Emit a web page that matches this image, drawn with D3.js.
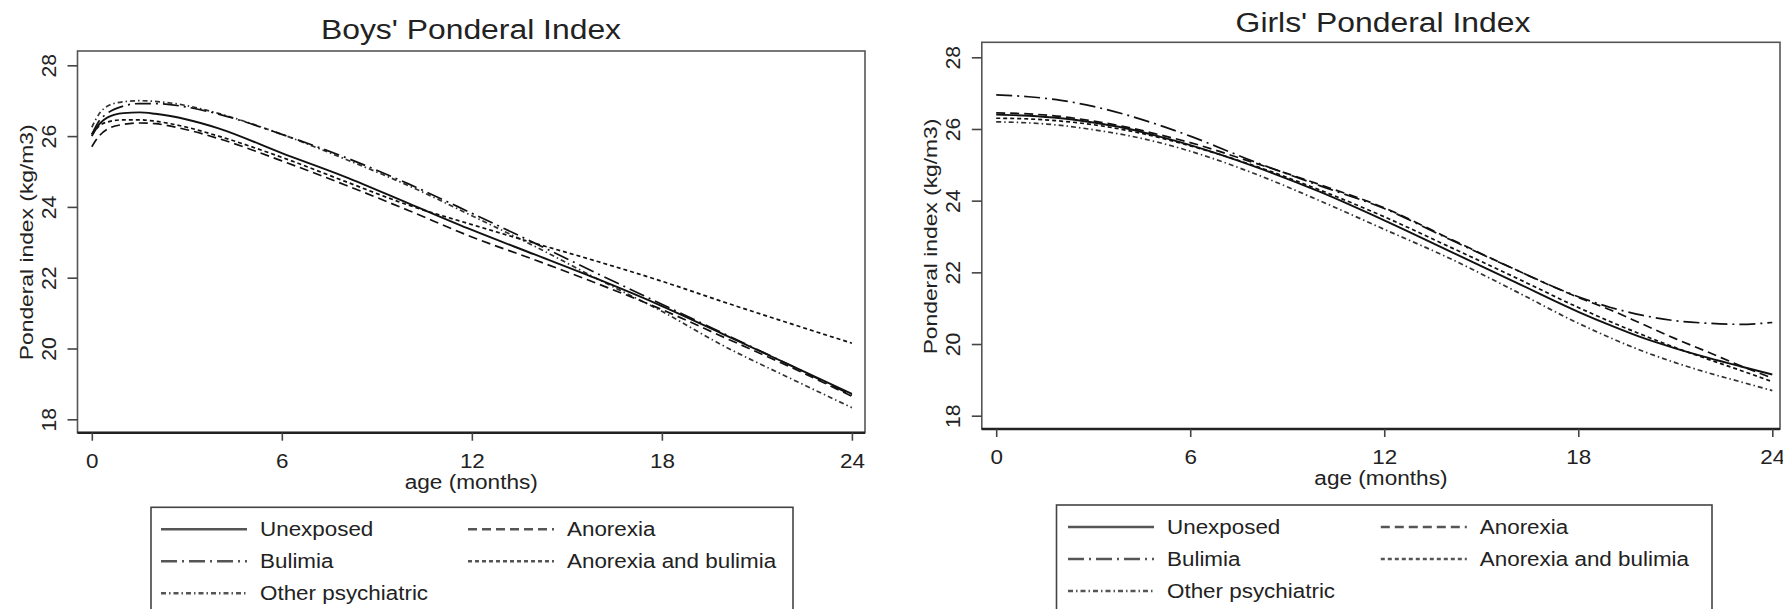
<!DOCTYPE html>
<html>
<head>
<meta charset="utf-8">
<script src="https://cdn.jsdelivr.net/npm/d3@7"></script>
<style>
  html, body { margin: 0; padding: 0; background: #fff; }
  svg { display: block; }
  text { font-family: "Liberation Sans", Arial, sans-serif; fill: #222; }
</style>
</head>
<body>
<svg id="chart" width="1783" height="609"></svg>
<script>
// ---------- data ----------
const seriesNames = ["Unexposed", "Anorexia", "Bulimia", "Anorexia and bulimia", "Other psychiatric"];
const xTicks = [0, 6, 12, 18, 24];
const yTicks = [18, 20, 22, 24, 26, 28];

const boysMonths = [0, 0.25, 0.5, 1, 1.5, 2, 3, 4, 6, 8, 10, 12, 14, 16, 18, 20, 22, 24];
const boysUnexposed = [26.0, 26.35, 26.53, 26.65, 26.67, 26.63, 26.47, 26.22, 25.52, 24.85, 24.1, 23.35, 22.65, 21.95, 21.2, 20.38, 19.55, 18.72];
const boysAnorexia = [25.7, 26.02, 26.2, 26.33, 26.37, 26.35, 26.18, 25.93, 25.3, 24.62, 23.9, 23.15, 22.5, 21.82, 21.1, 20.3, 19.5, 18.65];
const boysBulimia = [26.05, 26.45, 26.65, 26.85, 26.92, 26.92, 26.82, 26.62, 26.05, 25.4, 24.65, 23.82, 22.97, 22.1, 21.25, 20.4, 19.55, 18.68];
const boysAnorexiaBulimia = [26.05, 26.3, 26.4, 26.46, 26.46, 26.42, 26.25, 26.0, 25.4, 24.72, 24.05, 23.5, 22.97, 22.45, 21.9, 21.3, 20.72, 20.15];
const boysOther = [26.25, 26.65, 26.85, 26.97, 27.0, 26.98, 26.86, 26.64, 26.05, 25.35, 24.6, 23.75, 22.88, 21.95, 21.05, 20.05, 19.18, 18.33];

const girlsMonths = [0, 1, 2, 3, 4, 5, 6, 8, 10, 12, 14, 16, 18, 19, 20, 21, 22, 23, 24];
const girlsUnexposed = [26.4, 26.37, 26.3, 26.18, 26.02, 25.8, 25.55, 24.95, 24.25, 23.45, 22.6, 21.75, 20.9, 20.52, 20.17, 19.88, 19.62, 19.38, 19.15];
const girlsAnorexia = [26.45, 26.42, 26.35, 26.22, 26.06, 25.85, 25.62, 25.05, 24.45, 23.8, 22.95, 22.1, 21.3, 20.95, 20.55, 20.15, 19.78, 19.4, 19.05];
const girlsBulimia = [26.95, 26.9, 26.8, 26.63, 26.4, 26.12, 25.8, 25.08, 24.42, 23.78, 22.93, 22.1, 21.32, 21.02, 20.8, 20.65, 20.58, 20.55, 20.6];
const girlsAnorexiaBulimia = [26.3, 26.28, 26.22, 26.12, 25.97, 25.77, 25.53, 24.97, 24.3, 23.55, 22.72, 21.88, 21.02, 20.62, 20.25, 19.9, 19.58, 19.27, 18.95];
const girlsOther = [26.2, 26.17, 26.1, 25.98, 25.83, 25.63, 25.38, 24.75, 24.0, 23.2, 22.4, 21.5, 20.58, 20.17, 19.8, 19.48, 19.2, 18.95, 18.7];

// ---------- styles ----------
const dashes = [null, "9,5", "16,5,2,5", "4,3", "5,3,1.5,3"];

const svg = d3.select("#chart");

function stretchText(sel, factor) {
  sel.each(function () {
    const len = this.getComputedTextLength();
    d3.select(this).attr("textLength", len * factor).attr("lengthAdjust", "spacingAndGlyphs");
  });
}

function panel(cfg) {
  const g = svg.append("g");
  const x = d3.scaleLinear().domain([0, 24]).range([cfg.x0, cfg.x24]);
  const y = d3.scaleLinear().domain([18, 28]).range([cfg.y18, cfg.y28]);

  // plot box
  g.append("rect")
    .attr("x", cfg.box[0]).attr("y", cfg.box[1])
    .attr("width", cfg.box[2] - cfg.box[0]).attr("height", cfg.box[3] - cfg.box[1])
    .attr("fill", "none").attr("stroke", "#555").attr("stroke-width", 1.6);
  g.append("line")
    .attr("x1", cfg.box[0]).attr("x2", cfg.box[2])
    .attr("y1", cfg.box[3]).attr("y2", cfg.box[3])
    .attr("stroke", "#222").attr("stroke-width", 2.6);

  // y axis
  const ya = g.append("g").attr("transform", `translate(${cfg.box[0]},0)`)
    .call(d3.axisLeft(y).tickValues(yTicks).tickSize(10).tickSizeOuter(0));
  ya.select(".domain").remove();
  ya.selectAll(".tick line").attr("stroke", "#444").attr("stroke-width", 1.6);
  ya.selectAll(".tick text")
    .attr("x", null).attr("dy", "0.35em")
    .attr("transform", "translate(-29,0) rotate(-90)")
    .attr("text-anchor", "middle")
    .style("font-size", "20px").style("font-family", "Liberation Sans, Arial, sans-serif").attr("fill", "#333");
  stretchText(ya.selectAll(".tick text"), 1.06);

  // x axis
  const xa = g.append("g").attr("transform", `translate(0,${cfg.box[3]})`)
    .call(d3.axisBottom(x).tickValues(xTicks).tickSize(8).tickPadding(13).tickSizeOuter(0));
  xa.select(".domain").remove();
  xa.selectAll(".tick line").attr("stroke", "#444").attr("stroke-width", 1.6);
  xa.selectAll(".tick text")
    .style("font-size", "20px").style("font-family", "Liberation Sans, Arial, sans-serif").attr("fill", "#333");
  stretchText(xa.selectAll(".tick text"), 1.12);

  // axis titles
  const xt = g.append("text").attr("x", (cfg.box[0] + cfg.box[2]) / 2).attr("y", cfg.box[3] + 56)
    .attr("text-anchor", "middle").style("font-size", "20px").text("age (months)");
  stretchText(xt, 1.13);
  const yt = g.append("text")
    .attr("transform", `translate(${cfg.box[0] - 51},${(cfg.y18 + cfg.y28) / 2}) rotate(-90)`)
    .attr("dy", "0.35em").attr("text-anchor", "middle").style("font-size", "19px")
    .text("Ponderal index (kg/m3)");
  stretchText(yt, 1.2);

  // title
  const tt = g.append("text").attr("x", cfg.titleX).attr("y", cfg.titleY)
    .attr("text-anchor", "middle").style("font-size", "27px").attr("fill", "#111").text(cfg.title);
  stretchText(tt, 1.18);

  // lines
  const line = d3.line().x((d, i) => x(cfg.months[i])).y(d => y(d)).curve(d3.curveMonotoneX);
  const order = [4, 3, 2, 1, 0];
  order.forEach(k => {
    g.append("path").datum(cfg.series[k])
      .attr("d", line)
      .attr("fill", "none")
      .attr("stroke", k === 4 ? "#333" : "#111")
      .attr("stroke-width", k === 0 ? 1.9 : 1.7)
      .attr("stroke-dasharray", dashes[k]);
  });

  // legend
  const L = cfg.legend;
  g.append("rect").attr("x", L.left).attr("y", L.top).attr("width", L.width).attr("height", 140)
    .attr("fill", "#fff").attr("stroke", "#444").attr("stroke-width", 1.6);
  const pos = [[0, 0], [1, 0], [0, 1], [1, 1], [0, 2]];
  seriesNames.forEach((name, k) => {
    const col = pos[k][0], row = pos[k][1];
    const ly = L.top + 22 + row * 32;
    const sx = L.left + (col === 0 ? L.c1 : L.c2);
    g.append("line").attr("x1", sx).attr("x2", sx + 86).attr("y1", ly).attr("y2", ly)
      .attr("stroke", "#555").attr("stroke-width", 2.4).attr("stroke-dasharray", dashes[k]);
    const t = g.append("text").attr("x", sx + 99).attr("y", ly).attr("dy", "0.35em")
      .style("font-size", "20px").attr("fill", "#333").text(name);
    stretchText(t, 1.12);
  });
}

panel({
  title: "Boys' Ponderal Index", titleX: 471, titleY: 39,
  months: boysMonths,
  series: [boysUnexposed, boysAnorexia, boysBulimia, boysAnorexiaBulimia, boysOther],
  x0: 91.8, x24: 851.9, y18: 419.3, y28: 65.3,
  box: [77.5, 51, 865, 432.7],
  legend: { left: 151, top: 507.3, width: 642, c1: 10, c2: 317 }
});

panel({
  title: "Girls' Ponderal Index", titleX: 1383, titleY: 32,
  months: girlsMonths,
  series: [girlsUnexposed, girlsAnorexia, girlsBulimia, girlsAnorexiaBulimia, girlsOther],
  x0: 996.2, x24: 1772.3, y18: 415.7, y28: 57.3,
  box: [981.8, 42.3, 1780, 429],
  legend: { left: 1056.5, top: 505, width: 655.5, c1: 11.5, c2: 324.3 }
});
</script>
</body>
</html>
